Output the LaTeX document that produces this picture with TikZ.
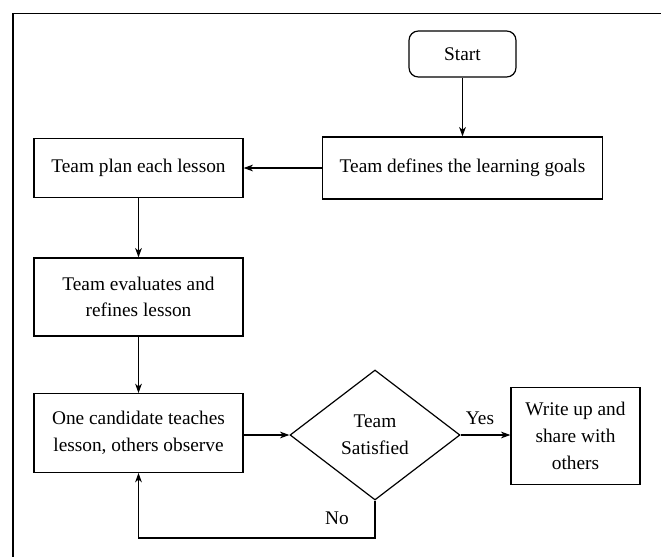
\documentclass[tikz,border=0pt]{standalone}
\usepackage{fontspec}
\setmainfont{Liberation Serif}
\usetikzlibrary{shapes.geometric,arrows.meta,calc}
\begin{document}
\begin{tikzpicture}[x={(0.75pt,0)},y={(0,-0.75pt)},
  every node/.style={font=\fontsize{14.5}{20}\selectfont},
  box/.style={draw,line width=0.9pt,rectangle,align=center,inner sep=2pt},
  startbox/.style={box,rounded corners=7pt},
  decision/.style={draw,line width=0.9pt,diamond,align=center,inner sep=0pt},
  arr/.style={line width=0.9pt,-{Stealth[length=7pt,width=5pt,inset=2pt]}},
  lbl/.style={inner sep=0pt}]
\useasboundingbox (0,0) rectangle (661,557);
\draw[line width=1.2pt] (12.7,557) -- (12.7,13.3) -- (661,13.3);
\node[startbox,minimum width=80.25pt,minimum height=34.5pt] (start) at (462.5,54) {Start};
\node[box,minimum width=210pt,minimum height=46.5pt] (define) at (462.5,168) {Team defines the learning goals};
\node[box,minimum width=156.75pt,minimum height=44pt] (plan) at (138.5,168) {Team plan each lesson};
\node[box,minimum width=156.75pt,minimum height=58.5pt] (eval) at (138.5,297) {Team evaluates and\\refines lesson};
\node[box,minimum width=156.75pt,minimum height=59pt] (teach) at (138.5,433) {One candidate teaches\\lesson, others observe};
\node[decision,minimum width=127.5pt,minimum height=97.5pt] (dec) at (375,435) {Team\\Satisfied};
\node[box,minimum width=96.75pt,minimum height=72.75pt] (write) at (575.5,436) {Write up and\\share with\\others};
\coordinate (c1) at (375,538);
\coordinate (c2) at (138.5,538);
\draw[arr] (start) -- (define);
\draw[arr] (define) -- (plan);
\draw[arr] (plan) -- (eval);
\draw[arr] (eval) -- (teach);
\draw[arr] (teach.east |- dec.west) -- (dec.west);
\draw[arr] (dec.east) -- (dec.east -| write.west);
\node[lbl] (yes) at (480,418) {Yes};
\node[lbl] (no) at (337,518) {No};
\draw[arr] (dec.south) -- (c1) -- (c2) -- (teach.south);
\end{tikzpicture}
\end{document}
